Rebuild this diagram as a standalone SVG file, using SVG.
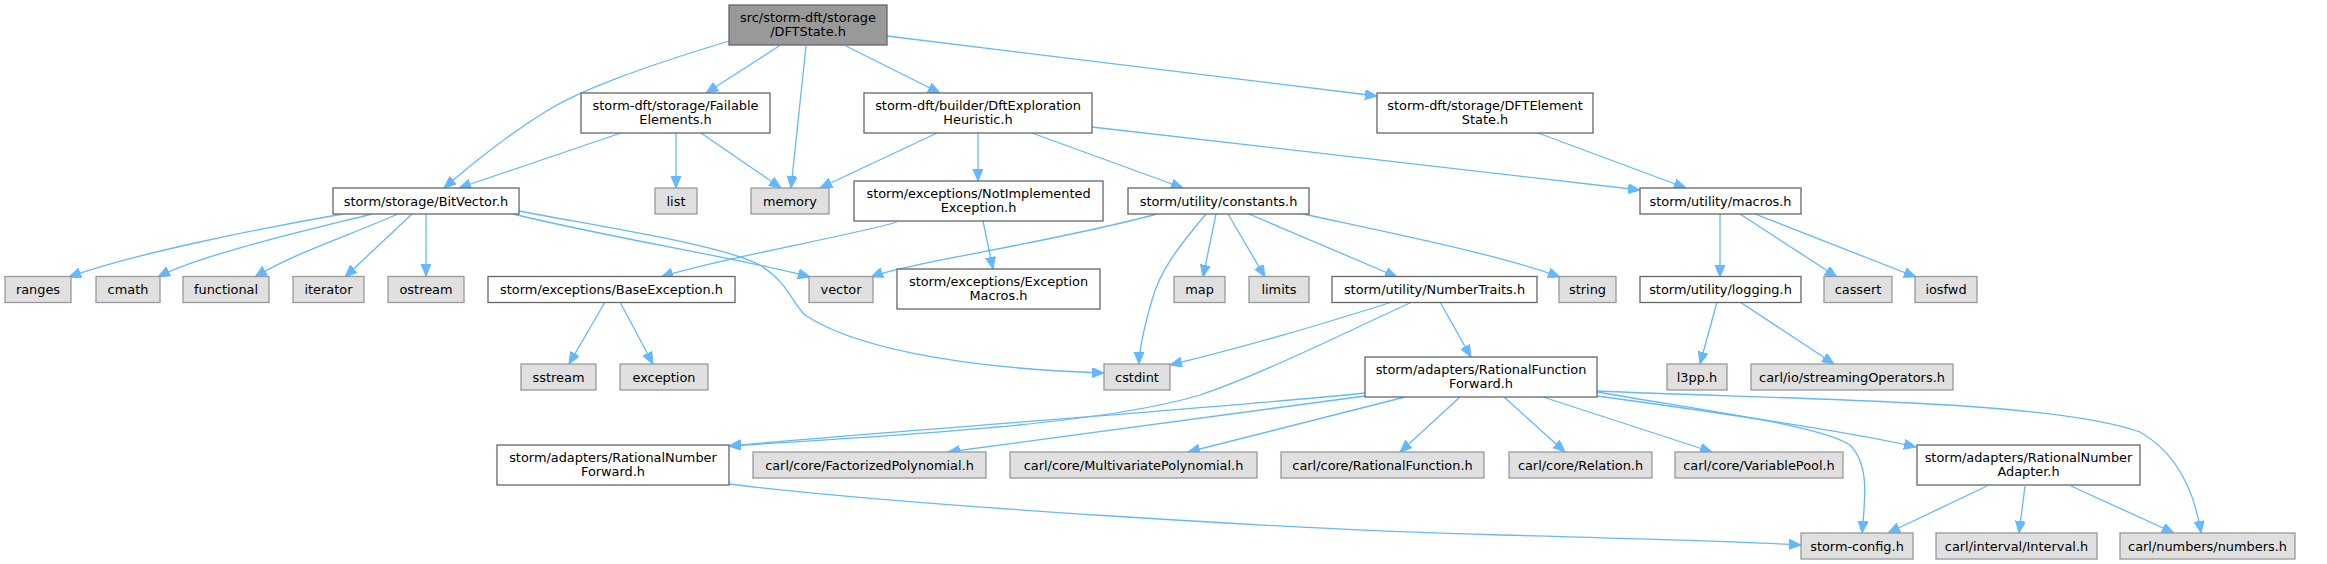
<svg xmlns="http://www.w3.org/2000/svg" width="2327" height="564" viewBox="0 0 2327 564">
<style>
rect{stroke-width:1.3}
.root{fill:#999999;stroke:#666666}
.n{fill:#ffffff;stroke:#666666}
.ext{fill:#e0e0e0;stroke:#999999}
text{font-family:"DejaVu Sans",sans-serif;font-size:12.9px;fill:#000;text-anchor:middle}
#edges path{fill:none;stroke:#63b8ff;stroke-width:1.3;marker-end:url(#ah)}
</style>
<defs>
<marker id="ah" markerUnits="userSpaceOnUse" markerWidth="13" markerHeight="11" refX="12" refY="5" orient="auto">
<path d="M0,0 L12,5 L0,10 z" fill="#63b8ff" stroke="#63b8ff" stroke-width="1"/>
</marker>
</defs>
<rect width="2327" height="564" fill="#ffffff"/>
<g id="edges">
<path d="M729,41 C640,68 580,90 545,112 C500,140 465,170 444,188"/>
<path d="M779,46 L706,93"/>
<path d="M806,46 L791,188"/>
<path d="M846,46 L940,93"/>
<path d="M887,36 L1377,96"/>
<path d="M621,133 L459,188"/>
<path d="M676,133 L676,188"/>
<path d="M701,133 L781,188"/>
<path d="M937,133 L820,188"/>
<path d="M978,133 L978,181"/>
<path d="M1032,133 L1183,188"/>
<path d="M1092,127 L1640,190"/>
<path d="M1538,133 L1686,188"/>
<path d="M343,214 C250,230 130,255 69,277"/>
<path d="M372,214 C300,232 200,255 158,277"/>
<path d="M398,214 C350,235 290,255 255,277"/>
<path d="M412,214 L345,277"/>
<path d="M426,214 L426,276"/>
<path d="M513,214 C620,240 740,258 810,277"/>
<path d="M519,211 C620,230 720,245 760,265 C790,285 790,300 805,315 C850,345 950,368 1104,373"/>
<path d="M897,222 C850,236 720,258 661,277"/>
<path d="M983,221 L993,269"/>
<path d="M1157,214 C1050,243 910,262 871,277"/>
<path d="M1206,214 C1180,245 1160,270 1152,300 C1142,335 1139,355 1139,364"/>
<path d="M1216,214 L1203,277"/>
<path d="M1228,214 L1265,277"/>
<path d="M1249,214 L1397,277"/>
<path d="M1303,214 C1400,235 1500,255 1560,277"/>
<path d="M1720,214 L1720,277"/>
<path d="M1740,214 L1837,277"/>
<path d="M1755,214 L1916,277"/>
<path d="M1717,302 L1700,364"/>
<path d="M1740,302 L1834,364"/>
<path d="M605,302 L569,364"/>
<path d="M620,302 L653,364"/>
<path d="M1392,302 C1320,325 1240,348 1170,365"/>
<path d="M1412,302 C1340,335 1260,375 1200,395 C1100,425 900,435 729,446"/>
<path d="M1440,302 L1471,357"/>
<path d="M1365,393 C1200,410 900,430 729,446"/>
<path d="M1365,396 L948,452"/>
<path d="M1405,397 L1188,452"/>
<path d="M1460,397 L1400,452"/>
<path d="M1504,397 L1565,452"/>
<path d="M1543,397 L1712,452"/>
<path d="M1597,396 C1700,410 1850,432 1916,447"/>
<path d="M1597,392 C1700,410 1820,425 1850,445 C1870,465 1865,500 1862,533"/>
<path d="M1597,391 C1800,400 2050,400 2140,432 C2180,455 2195,495 2201,533"/>
<path d="M1987,486 L1888,533"/>
<path d="M2025,486 L2019,533"/>
<path d="M2071,486 L2174,533"/>
<path d="M729,484 C900,505 1300,530 1500,535 C1650,539 1750,542 1801,545"/>
</g>
<g id="n_DFTState"><rect class="root" x="729" y="5" width="158" height="40"/><text x="808" y="21.5">src/storm-dft/storage</text><text x="808" y="36">/DFTState.h</text></g>
<g id="n_FailableElements"><rect class="n" x="581" y="93" width="189" height="40"/><text x="675.5" y="109.5">storm-dft/storage/Failable</text><text x="675.5" y="124">Elements.h</text></g>
<g id="n_DftExplorationHeuristic"><rect class="n" x="864" y="93" width="228" height="40"/><text x="978" y="109.5">storm-dft/builder/DftExploration</text><text x="978" y="124">Heuristic.h</text></g>
<g id="n_DFTElementState"><rect class="n" x="1377" y="93" width="216" height="40"/><text x="1485" y="109.5">storm-dft/storage/DFTElement</text><text x="1485" y="124">State.h</text></g>
<g id="n_BitVector"><rect class="n" x="333" y="188" width="186" height="26"/><text x="426" y="205.5">storm/storage/BitVector.h</text></g>
<g id="n_list"><rect class="ext" x="655" y="188" width="42" height="26"/><text x="676" y="205.5">list</text></g>
<g id="n_memory"><rect class="ext" x="751" y="188" width="78" height="26"/><text x="790" y="205.5">memory</text></g>
<g id="n_NotImplementedException"><rect class="n" x="854" y="181" width="249" height="40"/><text x="978.5" y="197.5">storm/exceptions/NotImplemented</text><text x="978.5" y="212">Exception.h</text></g>
<g id="n_constants"><rect class="n" x="1128" y="188" width="181" height="26"/><text x="1218.5" y="205.5">storm/utility/constants.h</text></g>
<g id="n_macros"><rect class="n" x="1640" y="188" width="161" height="26"/><text x="1720.5" y="205.5">storm/utility/macros.h</text></g>
<g id="n_ranges"><rect class="ext" x="5" y="276.5" width="66" height="26"/><text x="38" y="294">ranges</text></g>
<g id="n_cmath"><rect class="ext" x="96" y="276.5" width="64" height="26"/><text x="128" y="294">cmath</text></g>
<g id="n_functional"><rect class="ext" x="183" y="276.5" width="86" height="26"/><text x="226" y="294">functional</text></g>
<g id="n_iterator"><rect class="ext" x="293" y="276.5" width="71" height="26"/><text x="328.5" y="294">iterator</text></g>
<g id="n_ostream"><rect class="ext" x="388" y="276.5" width="76" height="26"/><text x="426" y="294">ostream</text></g>
<g id="n_BaseException"><rect class="n" x="488" y="276.5" width="247" height="26"/><text x="611.5" y="294">storm/exceptions/BaseException.h</text></g>
<g id="n_vector"><rect class="ext" x="809" y="276.5" width="64" height="26"/><text x="841" y="294">vector</text></g>
<g id="n_ExceptionMacros"><rect class="n" x="897" y="269" width="203" height="40"/><text x="998.5" y="285.5">storm/exceptions/Exception</text><text x="998.5" y="300">Macros.h</text></g>
<g id="n_map"><rect class="ext" x="1174" y="276.5" width="51" height="26"/><text x="1199.5" y="294">map</text></g>
<g id="n_limits"><rect class="ext" x="1249" y="276.5" width="60" height="26"/><text x="1279" y="294">limits</text></g>
<g id="n_NumberTraits"><rect class="n" x="1332" y="276.5" width="205" height="26"/><text x="1434.5" y="294">storm/utility/NumberTraits.h</text></g>
<g id="n_string"><rect class="ext" x="1559" y="276.5" width="57" height="26"/><text x="1587.5" y="294">string</text></g>
<g id="n_logging"><rect class="n" x="1640" y="276.5" width="161" height="26"/><text x="1720.5" y="294">storm/utility/logging.h</text></g>
<g id="n_cassert"><rect class="ext" x="1824" y="276.5" width="68" height="26"/><text x="1858" y="294">cassert</text></g>
<g id="n_iosfwd"><rect class="ext" x="1915" y="276.5" width="62" height="26"/><text x="1946" y="294">iosfwd</text></g>
<g id="n_sstream"><rect class="ext" x="521" y="364" width="75" height="26"/><text x="558.5" y="381.5">sstream</text></g>
<g id="n_exception"><rect class="ext" x="620" y="364" width="88" height="26"/><text x="664" y="381.5">exception</text></g>
<g id="n_cstdint"><rect class="ext" x="1104" y="364" width="66" height="26"/><text x="1137" y="381.5">cstdint</text></g>
<g id="n_RationalFunctionForward"><rect class="n" x="1365" y="357" width="232" height="40"/><text x="1481" y="373.5">storm/adapters/RationalFunction</text><text x="1481" y="388">Forward.h</text></g>
<g id="n_l3pp"><rect class="ext" x="1667" y="364" width="60" height="26"/><text x="1697" y="381.5">l3pp.h</text></g>
<g id="n_streamingOperators"><rect class="ext" x="1751" y="364" width="202" height="26"/><text x="1852" y="381.5">carl/io/streamingOperators.h</text></g>
<g id="n_RationalNumberForward"><rect class="n" x="497" y="445" width="232" height="40"/><text x="613" y="461.5">storm/adapters/RationalNumber</text><text x="613" y="476">Forward.h</text></g>
<g id="n_FactorizedPolynomial"><rect class="ext" x="753" y="452" width="233" height="26"/><text x="869.5" y="469.5">carl/core/FactorizedPolynomial.h</text></g>
<g id="n_MultivariatePolynomial"><rect class="ext" x="1010" y="452" width="247" height="26"/><text x="1133.5" y="469.5">carl/core/MultivariatePolynomial.h</text></g>
<g id="n_RationalFunction"><rect class="ext" x="1281" y="452" width="203" height="26"/><text x="1382.5" y="469.5">carl/core/RationalFunction.h</text></g>
<g id="n_Relation"><rect class="ext" x="1509" y="452" width="143" height="26"/><text x="1580.5" y="469.5">carl/core/Relation.h</text></g>
<g id="n_VariablePool"><rect class="ext" x="1675" y="452" width="168" height="26"/><text x="1759" y="469.5">carl/core/VariablePool.h</text></g>
<g id="n_RationalNumberAdapter"><rect class="n" x="1917" y="445" width="223" height="40"/><text x="2028.5" y="461.5">storm/adapters/RationalNumber</text><text x="2028.5" y="476">Adapter.h</text></g>
<g id="n_stormconfig"><rect class="ext" x="1801" y="533" width="112" height="26"/><text x="1857" y="550.5">storm-config.h</text></g>
<g id="n_Interval"><rect class="ext" x="1936" y="533" width="161" height="26"/><text x="2016.5" y="550.5">carl/interval/Interval.h</text></g>
<g id="n_numbers"><rect class="ext" x="2120" y="533" width="175" height="26"/><text x="2207.5" y="550.5">carl/numbers/numbers.h</text></g>
</svg>
